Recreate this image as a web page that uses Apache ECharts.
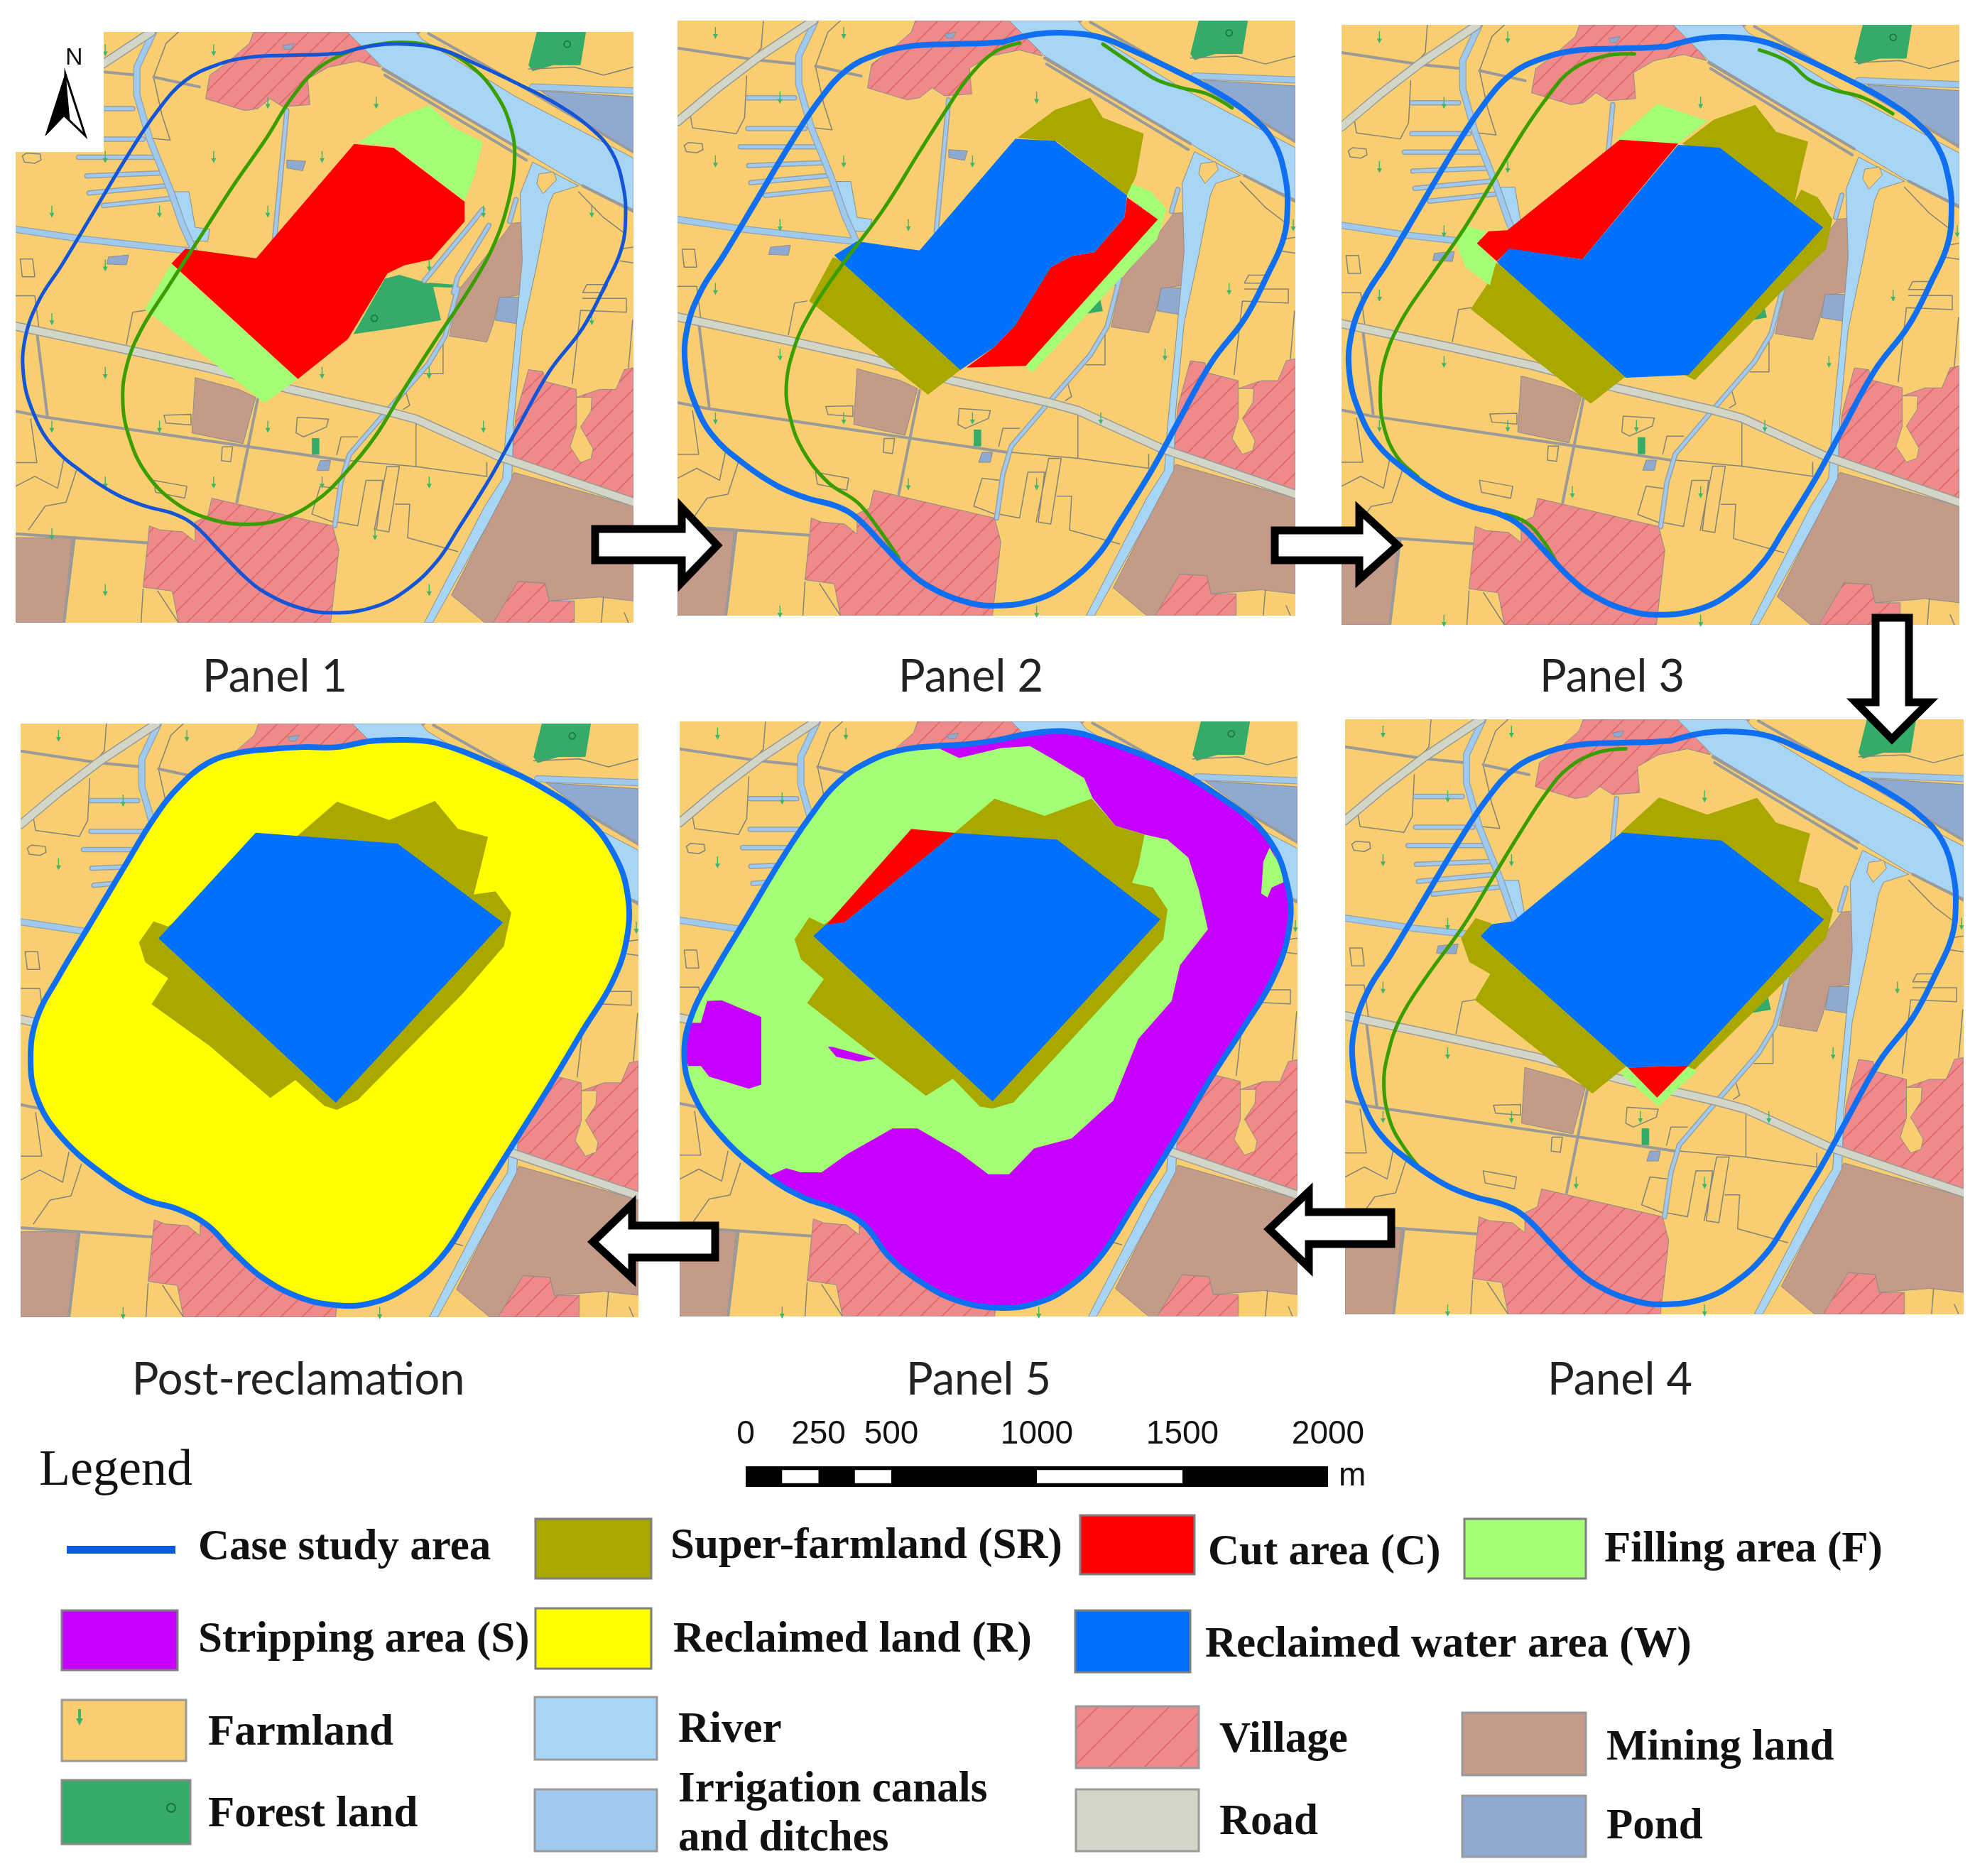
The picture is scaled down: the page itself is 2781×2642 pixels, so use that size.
<!DOCTYPE html>
<html>
<head>
<meta charset="utf-8">
<title>Reclamation panels</title>
<script src="https://cdn.jsdelivr.net/npm/echarts@6/dist/echarts.min.js"></script>
<style>
  html, body { margin: 0; padding: 0; background: #fff; }
  #chart { width: 2781px; height: 2642px; }
</style>
</head>
<body>
<div id="chart"></div>
<script>
// All map data is in "sheet units".
// base* arrays share one frame, each panel's overlay arrays use that panel's own frame.
var baseFrame = [39, 41, 1522, 1535];
var panelFrames = [
  [38, 44, 1520, 1527],
  [39, 41, 1522, 1535],
  [47, 27, 1530, 1532],
  [57, 41, 1540, 1534],
  [29, 28, 1512, 1522],
  [41, 41, 1523, 1530]
];
var panelNames = ['Panel 1', 'Panel 2', 'Panel 3', 'Panel 4', 'Panel 5', 'Post-reclamation'];

var baseVillages = [
  [[610,41],[850,41],[915,130],[860,115],[790,130],[740,160],[745,225],[680,230],[650,210],[620,235],[590,240],[495,210],[505,150],[545,120],[600,70]],
  [[920,41],[1010,41],[990,65],[945,65]],
  [[510,1220],[800,1290],[815,1350],[795,1535],[430,1535],[415,1455],[345,1445],[360,1290],[385,1300],[440,1305],[470,1330],[470,1280],[500,1265]],
  [[1270,895],[1305,900],[1310,925],[1385,945],[1385,965],[1440,945],[1480,945],[1500,895],[1522,890],[1522,1225],[1230,1120],[1240,1010]],
  [[1245,1430],[1310,1435],[1320,1480],[1380,1480],[1380,1535],[1185,1535]]
];
var baseVillageHoles = [
  [[1385,965],[1422,965],[1420,1000],[1395,1040],[1425,1095],[1420,1120],[1395,1130],[1370,1090],[1385,1040]]
];
var baseMining = [
  [[470,915],[575,945],[615,965],[585,1082],[462,1055]],
  [[1230,525],[1282,520],[1255,705],[1200,715],[1185,780],[1170,825],[1080,810],[1105,690],[1205,560]],
  [[1235,1155],[1522,1240],[1522,1480],[1440,1470],[1320,1480],[1310,1435],[1245,1430],[1185,1535],[1165,1535],[1085,1465]],
  [[39,1320],[175,1320],[155,1535],[39,1535]]
];
var basePonds = [
  [[1300,190],[1522,205],[1522,345],[1440,295],[1390,260]],
  [[262,610],[310,605],[305,630],[258,628]],
  [[690,365],[735,368],[728,392],[690,385]],
  [[1200,712],[1255,712],[1250,780],[1190,770]],
  [[770,1125],[795,1125],[790,1150],[762,1150]],
  [[680,75],[708,70],[700,85],[685,85]]
];
var baseForest = [
  [[1290,41],[1408,41],[1395,125],[1330,125],[1280,140],[1270,125]],
  [[925,665],[960,655],[1040,680],[1060,770],[950,790],[850,805]],
  [[750,1068],[768,1068],[768,1110],[750,1110]],
  [[1030,675],[1090,680],[1090,688],[1030,685]]
];
var baseRiver = [
  [[835,41],[1000,41],[1015,60],[1240,205],[1522,360],[1522,490],[1390,425],[1270,350],[920,130]],
  [[1280,370],[1390,430],[1330,450],[1318,480],[1290,630],[1255,800],[1235,1020],[1230,1170],[1170,1290],[1040,1535],[1020,1535],[1165,1240],[1208,1170],[1215,1060],[1235,850],[1255,620],[1250,450]],
  [[420,445],[455,445],[470,535],[505,540],[500,570],[460,570]]
];
var baseIslets = [
  [[1295,400],[1330,395],[1337,415],[1305,450],[1290,425]]
];
var baseRoads = [
  [[39,295],[130,215],[230,135],[365,41]],
  [[39,785],[330,850],[500,890],[700,945],[930,1000],[1000,1020],[1200,1115],[1522,1230]]
];
var baseCanals = [
  [[370,41],[330,130],[330,200],[360,310],[410,440],[440,530],[470,600]],
  [[39,540],[200,565],[460,595]],
  [[1280,180],[1522,190]]
];
var baseDitches = [
  [[208,235],[320,235]],
  [[208,312],[345,312]],
  [[190,358],[370,358]],
  [[210,405],[385,398]],
  [[215,448],[400,430]],
  [[250,480],[410,462]],
  [[690,240],[660,570]],
  [[1100,690],[1070,810],[1030,880],[930,1000]],
  [[930,1000],[840,1110],[820,1180],[805,1290]],
  [[1160,490],[1130,530],[1020,670]],
  [[1175,530],[1100,660],[1090,700]],
  [[1240,465],[1225,520]]
];
var baseLanes = [
  [[39,1000],[110,1015],[340,1050],[600,1090],[830,1125]],
  [[90,800],[115,1010]],
  [[620,970],[570,1230]],
  [[39,1310],[180,1320],[355,1333]],
  [[180,1320],[155,1535]],
  [[39,110],[230,140],[330,150]],
  [[370,155],[480,180]],
  [[920,135],[1270,350]],
  [[925,150],[1265,365]],
  [[1030,45],[1240,170],[1522,345]],
  [[1400,430],[1522,495]]
];
var baseOutlines = [
  [[245,41],[240,110],[215,140]],
  [[205,180],[200,285],[180,325],[75,310],[70,280]],
  [[430,41],[400,70],[370,155],[390,250],[410,315],[365,310]],
  [[55,355],[65,347],[98,350],[100,365],[85,373],[60,370],[55,355]],
  [[50,615],[80,615],[85,660],[55,660],[50,615]],
  [[39,708],[85,708],[95,790]],
  [[350,745],[320,750],[305,830]],
  [[395,1010],[460,1008],[460,1035],[400,1030],[395,1010]],
  [[715,1015],[790,1020],[785,1040],[730,1065],[712,1055],[715,1015]],
  [[535,1090],[560,1090],[555,1128],[533,1125],[535,1090]],
  [[370,1175],[450,1190],[445,1220],[375,1205],[370,1175]],
  [[810,1110],[820,1065],[860,1065]],
  [[840,1125],[1000,1140],[1170,1165]],
  [[1000,1020],[1000,1140]],
  [[800,1280],[750,1260],[770,1190],[810,1195]],
  [[810,1280],[860,1290],[880,1175],[920,1175],[905,1300],[935,1305],[960,1140],[930,1140],[900,1300]],
  [[950,1235],[985,1235],[980,1320],[1100,1355]],
  [[1410,680],[1460,680],[1450,700],[1400,700],[1410,680]],
  [[1400,715],[1505,715],[1505,750],[1395,745],[1375,930]],
  [[1520,770],[1510,890]],
  [[1390,445],[1450,510],[1500,550]],
  [[1490,620],[1522,625]],
  [[1490,590],[1522,585]],
  [[39,1130],[90,1130],[75,1020]],
  [[39,1190],[85,1165],[140,1195],[155,1120]],
  [[185,1150],[160,1230],[110,1240],[70,1300]],
  [[1065,810],[1065,905],[1020,905]],
  [[975,950],[985,985],[970,995]],
  [[1170,1130],[1170,1165]],
  [[345,1450],[340,1535]],
  [[380,1455],[430,1535]],
  [[1450,1470],[1445,1535]],
  [[1500,1510],[1510,1535]],
  [[1270,135],[1380,130],[1450,150],[1522,130]]
];
var baseFarmMarks = [
  [130,72],[438,72],[130,395],[438,395],[747,395],[901,235],[285,235],[285,555],[593,555],[130,715],
  [285,880],[1209,880],[1363,715],[1517,555],[130,1040],[438,1040],[747,1040],[593,1205],[901,1205],
  [285,1525],[901,1525],[1055,1040]
];
var baseForestMarks = [[1363,72],[900,765]];
var panel1FarmMarks = [
  [253,90],[513,90],[903,222],[643,222],[513,358],[253,358],[773,358],[125,495],[383,495],[643,495],
  [1160,495],[1420,495],[253,630],[1030,630],[125,765],[1420,765],[253,900],[773,900],[1030,900],
  [125,1035],[383,1035],[643,1035],[1160,1035],[253,1175],[513,1175],[773,1175],[1030,1175],[125,1305],
  [900,1305],[253,1445],[1030,1445]
];

var studyArea = [
  [820,95],[900,75],[980,72],[1060,85],[1140,120],[1240,170],[1340,225],[1420,285],[1470,345],[1497,430],
  [1503,510],[1493,590],[1455,680],[1400,790],[1320,900],[1240,1050],[1180,1165],[1100,1300],[1050,1380],
  [980,1450],[900,1495],[800,1510],[720,1497],[640,1460],[590,1420],[530,1355],[470,1290],[420,1260],
  [350,1240],[280,1210],[200,1155],[125,1085],[80,1000],[58,910],[62,815],[95,720],[150,630],[230,490],
  [310,350],[380,240],[445,165],[520,125],[600,105],[700,100],[770,98]
];

// panel 1
var p1Green = [[[860,85],[960,70],[1050,85],[1130,130],[1190,200],[1225,280],[1235,360],[1220,470],[1180,590],[1120,700],[1050,810],[970,940],[900,1060],[830,1150],[760,1220],[680,1265],[590,1280],[500,1265],[420,1225],[350,1150],[310,1060],[295,970],[305,880],[340,790],[400,690],[480,560],[560,430],[640,310],[700,210],[770,130],[860,85]]];
var p1Fill = [
  [[860,322],[945,332],[1115,468],[1140,400],[1158,320],[1090,285],[1030,228],[950,260]],
  [[412,625],[440,655],[715,915],[635,975],[348,740]]
];
var p1Cut = [[[850,325],[945,335],[1115,470],[1115,520],[1035,615],[970,630],[930,650],[835,815],[715,915],[412,625],[445,588],[615,612]]];

// panel 2
var p2Green = [
  [[860,97],[800,120],[740,180],[690,255],[620,370],[530,520],[430,660],[360,770],[320,860],[300,960],[310,1040],[340,1120],[400,1200],[470,1250],[510,1300],[570,1390]],
  [[1060,100],[1130,150],[1190,190],[1250,210],[1310,225],[1370,260]]
];
var p2Super = [
  [[855,335],[945,265],[1030,235],[1060,285],[1158,325],[1140,430],[1118,480],[950,345]],
  [[412,635],[480,660],[740,900],[718,918],[640,980],[355,745]]
];
var p2Fill = [[[1118,480],[1130,450],[1175,470],[1213,515],[1190,590],[890,925],[873,908],[1192,540]]];
var p2Cut = [[[1118,485],[1192,540],[875,908],[733,912],[800,860],[850,805],[935,660],[985,632],[1040,622],[1112,535]]];
var p2Water = [[[850,338],[945,343],[1118,480],[1112,535],[1040,622],[985,632],[935,660],[850,805],[800,860],[718,918],[415,630],[470,595],[620,618]]];

// panel 3
var p3Green = [
  [[750,100],[680,105],[600,140],[540,210],[480,300],[410,420],[340,540],[260,660],[190,770],[150,870],[140,960],[150,1040],[180,1110],[230,1160]],
  [[440,1255],[490,1275],[530,1320],[560,1370]],
  [[1050,90],[1120,120],[1170,165],[1230,190],[1300,210],[1370,250]]
];
var p3Super = [
  [[865,325],[940,265],[1040,228],[1090,295],[1167,320],[1150,395],[1135,470],[1150,440],[1190,460],[1225,515],[1210,590],[1100,700],[895,918],[860,900],[1150,540],[955,380]],
  [[418,625],[490,640],[760,890],[725,912],[645,977],[357,740],[395,680]]
];
var p3Fill = [
  [[708,315],[805,225],[925,268],[855,325]],
  [[322,575],[345,532],[395,545],[372,575],[418,622],[403,680],[345,635]]
];
var p3Cut = [[[715,315],[855,325],[625,615],[450,590],[420,620],[372,575],[400,545],[445,542]]];
var p3Water = [[[855,328],[955,335],[1203,535],[880,905],[730,912],[420,622],[450,588],[625,615]]];

// panel 4
var p4Green = [[[730,115],[660,125],[590,165],[540,225],[480,320],[410,440],[340,560],[250,690],[190,790],[160,880],[150,960],[165,1050],[195,1110],[240,1172]]];
var p4Super = [
  [[718,325],[810,237],[925,280],[1045,238],[1090,300],[1172,328],[1155,400],[1145,448],[1190,465],[1227,520],[1210,590],[1100,710],[895,920],[860,905],[1150,545],[960,390],[800,400]],
  [[335,590],[370,540],[405,552],[450,585],[760,890],[727,915],[650,980],[368,745],[405,680],[355,650]]
];
var p4Fill = [[[715,928],[735,915],[805,990],[880,912],[900,925],[808,1012]]];
var p4Water = [[[720,325],[960,345],[1205,543],[880,910],[735,915],[382,585],[410,555],[460,548]]];
var p4Cut = [[[735,915],[880,910],[805,990]]];

// panel 5
var p5Boundary = [
  [1000,60],[1180,130],[1330,220],[1440,320],[1490,450],[1490,560],[1450,680],[1380,800],[1300,930],[1210,1090],
  [1120,1240],[1040,1370],[960,1450],[880,1490],[790,1500],[690,1480],[600,1430],[530,1370],[470,1290],[400,1250],
  [330,1225],[240,1170],[130,1070],[60,960],[40,860],[60,760],[110,660],[190,520],[270,380],[340,270],[410,180],
  [490,125],[560,100],[640,90],[720,85],[790,75],[860,60],[940,52]
];
var p5Strip = [
  [[650,95],[700,120],[800,95],[870,90],[920,120],[1000,170],[1020,220],[1075,290],[1145,312],[1200,325],[1250,370],[1275,450],[1297,550],[1230,640],[1210,730],[1130,825],[1070,980],[970,1075],[880,1100],[820,1165],[770,1165],[700,1110],[600,1050],[540,1050],[430,1115],[370,1160],[320,1160],[285,1150],[240,1170],[330,1225],[400,1250],[470,1290],[530,1370],[600,1430],[690,1480],[790,1500],[880,1490],[960,1450],[1040,1370],[1120,1240],[1210,1090],[1300,930],[1380,800],[1450,680],[1490,560],[1490,450],[1440,320],[1330,220],[1180,130],[1000,60],[940,52],[860,60],[790,75],[720,85]],
  [[95,730],[130,728],[225,770],[225,940],[195,950],[100,920],[80,893],[50,893],[40,860],[55,785],[80,785]],
  [[385,845],[395,845],[500,875],[460,882],[405,870]]
];
var p5Fill = [[[1445,345],[1475,400],[1478,432],[1450,445],[1440,470],[1425,460],[1430,380]]];
var p5Super = [[[692,305],[785,222],[905,265],[1018,222],[1075,290],[1145,312],[1130,390],[1115,433],[1165,445],[1200,500],[1190,575],[1090,690],[830,985],[780,1000],[750,995],[685,925],[620,968],[335,735],[375,675],[320,625],[305,575],[340,520],[375,538]]];
var p5Cut = [[[585,298],[690,308],[425,532],[380,540]]];
var p5Water = [[[690,308],[935,325],[1183,525],[780,982],[350,567],[380,538],[425,532]]];

// post-reclamation
var p6Boundary = [
  [960,82],[1040,90],[1180,145],[1290,200],[1400,280],[1465,370],[1497,470],[1495,580],[1460,690],[1390,810],
  [1310,950],[1220,1100],[1130,1250],[1050,1380],[960,1460],[880,1495],[800,1500],[710,1480],[620,1430],[550,1365],
  [490,1300],[420,1260],[340,1235],[250,1180],[140,1080],[80,980],[65,880],[80,780],[130,680],[210,540],[290,400],
  [360,280],[420,200],[490,140],[560,115],[640,105],[720,100],[800,100],[880,85]
];
var p6Super = [[[708,320],[800,237],[925,283],[1035,235],[1090,305],[1162,325],[1145,400],[1128,470],[1180,462],[1218,515],[1200,600],[1100,720],[850,985],[800,1010],[770,1000],[700,935],[640,980],[495,850],[355,745],[395,680],[340,640],[325,590],[360,537],[395,550]]];
var p6Water = [[[605,315],[945,342],[1198,540],[797,992],[372,580]]];

// scale bar, metres
var scaleTicks = [0, 250, 500, 1000, 1500, 2000];
var scaleBlack = [[0, 2000]];
var scaleWhite = [[125, 250], [375, 500], [1000, 1500]];

var legendLabels = [
  'Case study area', 'Super-farmland (SR)', 'Cut area (C)', 'Filling area (F)',
  'Stripping area (S)', 'Reclaimed land (R)', 'Reclaimed water area (W)',
  'Farmland', 'River', 'Village', 'Mining land',
  'Forest land', 'Irrigation canals', 'and ditches', 'Road', 'Pond'
];

var COLORS = {
  farm: '#F9CE70', river: '#A6D5F5', canal: '#9FCAEE', forest: '#34AB68', village: '#EE8A8A',
  mining: '#C49A89', road: '#D1D6C7', pond: '#8FA9D0', red: '#FF0000', fill: '#A3FF73',
  olive: '#A8A800', water: '#0070FF', purple: '#C500FF', yellow: '#FFFF00', grey: '#8D8D8D',
  green: '#3A9E00', farmMark: '#3FB56B'
};

function hatchPattern(size, lineColor) {
  var c = document.createElement('canvas');
  c.width = size;
  c.height = size;
  var ctx = c.getContext('2d');
  ctx.fillStyle = COLORS.village;
  ctx.fillRect(0, 0, size, size);
  ctx.strokeStyle = lineColor;
  ctx.lineWidth = 1.6;
  ctx.beginPath();
  ctx.moveTo(-2, size + 2);
  ctx.lineTo(size + 2, -2);
  ctx.stroke();
  return { image: c, repeat: 'repeat' };
}
var villagePattern = hatchPattern(30, '#E0676A');

var chart = echarts.init(document.getElementById('chart'));

var panelBoxes = [
  { left: 22, top: 45, width: 870, height: 832 },
  { left: 954, top: 29, width: 870, height: 838 },
  { left: 1889, top: 35, width: 870, height: 845 },
  { left: 1894, top: 1013, width: 871, height: 838 },
  { left: 957, top: 1016, width: 870, height: 838 },
  { left: 29, top: 1019, width: 870, height: 836 }
];

var grids = [], xAxes = [], yAxes = [], series = [];

function hiddenAxes(gridIndex, frame) {
  xAxes.push({ type: 'value', gridIndex: gridIndex, min: frame[0], max: frame[2], show: false });
  yAxes.push({ type: 'value', gridIndex: gridIndex, min: frame[1], max: frame[3], inverse: true, show: false });
}

function polyLayer(axis, polys, style, z, smooth) {
  series.push({
    type: 'custom', coordinateSystem: 'cartesian2d', xAxisIndex: axis, yAxisIndex: axis,
    clip: true, silent: true, z: z,
    data: polys.map(function (p, i) { return [i, 0]; }),
    renderItem: function (params, api) {
      var pts = polys[api.value(0)].map(function (p) { return api.coord(p); });
      return { type: 'polygon', shape: { points: pts, smooth: smooth || 0 }, style: style };
    }
  });
}

function lineLayer(axis, lines, color, width, z, smooth) {
  series.push({
    type: 'custom', coordinateSystem: 'cartesian2d', xAxisIndex: axis, yAxisIndex: axis,
    clip: true, silent: true, z: z,
    data: lines.map(function (p, i) { return [i, 0]; }),
    renderItem: function (params, api) {
      var pts = lines[api.value(0)].map(function (p) { return api.coord(p); });
      return {
        type: 'polyline', shape: { points: pts, smooth: smooth || 0 },
        style: { stroke: color, lineWidth: width, fill: null, lineJoin: 'round', lineCap: 'round' }
      };
    }
  });
}

function ring(points) { return [points.concat([points[0]])]; }

function farmMarks(axis, pts) {
  series.push({
    type: 'scatter', xAxisIndex: axis, yAxisIndex: axis, silent: true, z: 9, data: pts,
    symbol: 'path://M4 0L6 0L6 12L10 12L5 20L0 12L4 12Z', symbolSize: [7, 17],
    itemStyle: { color: COLORS.farmMark, opacity: 1 }
  });
}

function drawBase(axis) {
  var frameBox = [[baseFrame[0], baseFrame[1]], [baseFrame[2], baseFrame[1]], [baseFrame[2], baseFrame[3]], [baseFrame[0], baseFrame[3]]];
  polyLayer(axis, [frameBox], { fill: COLORS.farm }, 2);
  polyLayer(axis, baseVillages, { fill: villagePattern, stroke: COLORS.grey, lineWidth: 1 }, 3);
  polyLayer(axis, baseVillageHoles, { fill: COLORS.farm, stroke: COLORS.grey, lineWidth: 1 }, 3);
  polyLayer(axis, baseMining, { fill: COLORS.mining, stroke: COLORS.grey, lineWidth: 1 }, 3);
  polyLayer(axis, basePonds, { fill: COLORS.pond, stroke: COLORS.grey, lineWidth: 1 }, 3);
  polyLayer(axis, baseForest, { fill: COLORS.forest }, 3);
  lineLayer(axis, baseOutlines, '#85827A', 1.5, 4);
  polyLayer(axis, baseRiver, { fill: COLORS.river, stroke: COLORS.grey, lineWidth: 1 }, 5);
  polyLayer(axis, baseIslets, { fill: COLORS.farm, stroke: COLORS.grey, lineWidth: 1 }, 5);
  lineLayer(axis, baseLanes, '#9A9A9A', 4, 5);
  lineLayer(axis, baseDitches, '#9A9FA5', 7.5, 5);
  lineLayer(axis, baseDitches, COLORS.canal, 4.5, 5);
  lineLayer(axis, baseCanals, '#8FA2B5', 10, 6);
  lineLayer(axis, baseCanals, COLORS.canal, 7.5, 6);
  lineLayer(axis, baseRoads, '#9A9A9A', 13, 7);
  lineLayer(axis, baseRoads, COLORS.road, 10, 7);
  series.push({
    type: 'scatter', xAxisIndex: axis, yAxisIndex: axis, silent: true, z: 9, data: baseForestMarks,
    symbol: 'circle', symbolSize: 9,
    itemStyle: { color: 'transparent', borderColor: '#1F6E45', borderWidth: 1.5, opacity: 1 }
  });
}

var OVER = 20;
panelBoxes.forEach(function (box, i) {
  grids.push(box);
  grids.push(box);
  hiddenAxes(2 * i, baseFrame);
  hiddenAxes(2 * i + 1, panelFrames[i]);
  drawBase(2 * i);
  farmMarks(i === 0 ? 1 : 2 * i, i === 0 ? panel1FarmMarks : baseFarmMarks);
});

function solid(color) { return { fill: color }; }
var AREA_LINE = '#0F6FF0';
var AREA_WIDTH = 8;
var GREEN_WIDTH = 5;

// panel 1
polyLayer(1, p1Fill, solid(COLORS.fill), OVER);
polyLayer(1, p1Cut, solid(COLORS.red), OVER + 1);
lineLayer(1, p1Green, COLORS.green, GREEN_WIDTH, OVER + 2, 0.4);
lineLayer(0, ring(studyArea), '#1455D8', 5, OVER + 3, 0.4);

// panel 2
polyLayer(3, p2Super, solid(COLORS.olive), OVER);
polyLayer(3, p2Fill, solid(COLORS.fill), OVER);
polyLayer(3, p2Cut, solid(COLORS.red), OVER + 1);
polyLayer(3, p2Water, solid(COLORS.water), OVER + 1);
lineLayer(3, p2Green, COLORS.green, GREEN_WIDTH, OVER + 2, 0.4);
lineLayer(2, ring(studyArea), AREA_LINE, AREA_WIDTH, OVER + 3, 0.4);

// panel 3
polyLayer(5, p3Super, solid(COLORS.olive), OVER);
polyLayer(5, p3Fill, solid(COLORS.fill), OVER);
polyLayer(5, p3Cut, solid(COLORS.red), OVER + 1);
polyLayer(5, p3Water, solid(COLORS.water), OVER + 1);
lineLayer(5, p3Green, COLORS.green, GREEN_WIDTH, OVER + 2, 0.4);
lineLayer(4, ring(studyArea), AREA_LINE, AREA_WIDTH, OVER + 3, 0.4);

// panel 4
polyLayer(7, p4Super, solid(COLORS.olive), OVER);
polyLayer(7, p4Fill, solid(COLORS.fill), OVER);
polyLayer(7, p4Water, solid(COLORS.water), OVER + 1);
polyLayer(7, p4Cut, solid(COLORS.red), OVER + 1);
lineLayer(7, p4Green, COLORS.green, GREEN_WIDTH, OVER + 2, 0.4);
lineLayer(6, ring(studyArea), AREA_LINE, AREA_WIDTH, OVER + 3, 0.4);

// panel 5
polyLayer(9, [p5Boundary], solid(COLORS.fill), OVER, 0.4);
polyLayer(9, p5Strip, solid(COLORS.purple), OVER);
polyLayer(9, p5Fill, solid(COLORS.fill), OVER);
polyLayer(9, p5Super, solid(COLORS.olive), OVER + 1);
polyLayer(9, p5Cut, solid(COLORS.red), OVER + 1);
polyLayer(9, p5Water, solid(COLORS.water), OVER + 1);
lineLayer(9, ring(p5Boundary), AREA_LINE, AREA_WIDTH, OVER + 3, 0.4);

// post-reclamation
polyLayer(11, [p6Boundary], solid(COLORS.yellow), OVER, 0.4);
polyLayer(11, p6Super, solid(COLORS.olive), OVER + 1);
polyLayer(11, p6Water, solid(COLORS.water), OVER + 1);
lineLayer(11, ring(p6Boundary), AREA_LINE, AREA_WIDTH, OVER + 3, 0.4);

// scale bar gets its own small axis
grids.push({ left: 1050, top: 2065, width: 820, height: 29 });
xAxes.push({
  type: 'value', gridIndex: 12, min: 0, max: 2000, interval: 250, position: 'top',
  axisLine: { show: false }, axisTick: { show: false }, splitLine: { show: false },
  axisLabel: {
    margin: 22, fontFamily: 'Liberation Sans', fontSize: 46, color: '#111',
    hideOverlap: false,
    formatter: function (v) { return scaleTicks.indexOf(v) >= 0 ? String(v) : ''; }
  }
});
yAxes.push({ type: 'value', gridIndex: 12, min: 0, max: 1, show: false });

function scaleLayer(segs, y0, y1, color, z) {
  series.push({
    type: 'custom', coordinateSystem: 'cartesian2d', xAxisIndex: 12, yAxisIndex: 12, silent: true, z: z,
    data: segs,
    renderItem: function (params, api) {
      var a = api.coord([api.value(0), y0]);
      var b = api.coord([api.value(1), y1]);
      return { type: 'rect', shape: { x: a[0], y: b[1], width: b[0] - a[0], height: a[1] - b[1] }, style: { fill: color } };
    }
  });
}
scaleLayer(scaleBlack, 0, 1, '#000', 5);
scaleLayer(scaleWhite, 0.18, 0.82, '#fff', 6);

// everything below is sheet furniture, placed in page pixels
var graphic = [];

function addText(text, x, y, font) {
  graphic.push({
    type: 'text', x: x, y: y, z: 100, silent: true,
    style: {
      text: text, fill: font.color || '#111', textAlign: font.align || 'left', verticalAlign: 'middle',
      fontFamily: font.family, fontSize: font.size, fontWeight: font.weight || 'normal'
    }
  });
}

function addPoly(points, fill, stroke, width) {
  graphic.push({
    type: 'polygon', z: 100, silent: true, shape: { points: points },
    style: { fill: fill, stroke: stroke, lineWidth: width || 0, lineJoin: 'miter', miterLimit: 10 }
  });
}

function addRect(x, y, w, h, fill, stroke) {
  graphic.push({
    type: 'rect', z: 90, silent: true, shape: { x: x, y: y, width: w, height: h },
    style: { fill: fill, stroke: stroke || null, lineWidth: stroke ? 3 : 0 }
  });
}

// north arrow box over panel 1
addRect(20, 42, 126, 172, '#fff');
addText('N', 92, 82, { family: 'Liberation Sans', size: 34 });
addPoly([[92, 104], [64, 191], [91, 163]], '#000', '#000', 1);
addPoly([[92, 104], [120, 191], [91, 163]], '#fff', '#000', 3);
addPoly([[92, 104], [98, 170], [91, 163]], '#000', '#000', 1);

// block arrows between panels
var ARROW_W = 11;
addPoly([[838, 745], [960, 745], [960, 715], [1010, 768], [960, 820], [960, 789], [838, 789]], '#fff', '#000', ARROW_W);
addPoly([[1795, 747], [1914, 747], [1914, 718], [1968, 768], [1914, 816], [1914, 789], [1795, 789]], '#fff', '#000', ARROW_W);
addPoly([[2641, 870], [2688, 870], [2688, 989], [2716, 989], [2664, 1041], [2613, 989], [2641, 989]], '#fff', '#000', ARROW_W);
addPoly([[1959, 1707], [1843, 1707], [1843, 1678], [1787, 1731], [1843, 1785], [1843, 1752], [1959, 1752]], '#fff', '#000', ARROW_W);
addPoly([[1007, 1726], [890, 1726], [890, 1696], [835, 1749], [890, 1800], [890, 1771], [1007, 1771]], '#fff', '#000', ARROW_W);

// panel captions
var captionFont = { family: 'Lato', size: 63, align: 'center', color: '#222' };
addText(panelNames[0], 387, 954, captionFont);
addText(panelNames[1], 1367, 954, captionFont);
addText(panelNames[2], 2270, 954, captionFont);
addText(panelNames[3], 2281, 1944, captionFont);
addText(panelNames[4], 1378, 1944, captionFont);
addText(panelNames[5], 420, 1944, captionFont);

// legend
addText('Legend', 55, 2072, { family: 'Liberation Serif', size: 72, color: '#111' });
addText('m', 1885, 2079, { family: 'Liberation Sans', size: 46 });

graphic.push({
  type: 'rect', z: 90, silent: true, shape: { x: 94, y: 2177, width: 153, height: 11 },
  style: { fill: '#0A5BE0' }
});
addRect(754, 2139, 163, 84, COLORS.olive, '#7F7F7F');
addRect(1521, 2134, 161, 83, COLORS.red, '#7F7F7F');
addRect(2062, 2139, 171, 84, COLORS.fill, '#7F7F7F');
addRect(87, 2268, 163, 84, COLORS.purple, '#7F7F7F');
addRect(754, 2265, 163, 85, COLORS.yellow, '#7F7F7F');
addRect(1514, 2268, 162, 87, COLORS.water, '#7F7F7F');
addRect(87, 2394, 175, 86, COLORS.farm, '#9A9A9A');
addRect(753, 2390, 172, 88, COLORS.river, '#9A9A9A');
addRect(1515, 2403, 173, 87, hatchPattern(50, '#E0676A'), '#9A9A9A');
addRect(2059, 2412, 174, 88, COLORS.mining, '#9A9A9A');
addRect(87, 2507, 181, 90, COLORS.forest, '#8A8A8A');
addRect(753, 2520, 172, 87, COLORS.canal, '#9A9A9A');
addRect(1515, 2520, 173, 87, COLORS.road, '#9A9A9A');
addRect(2059, 2529, 174, 86, COLORS.pond, '#9A9A9A');

// little marks inside the farmland and forest swatches
addPoly([[110, 2407], [114, 2407], [114, 2420], [117, 2420], [112, 2430], [107, 2420], [110, 2420]], COLORS.farmMark);
graphic.push({
  type: 'circle', z: 100, silent: true, shape: { cx: 241, cy: 2546, r: 6 },
  style: { fill: null, stroke: '#1F6E45', lineWidth: 2 }
});

var labelFont = { family: 'Liberation Serif', size: 61, weight: 'bold', color: '#111' };
var labelSpots = [
  [279, 2180], [944, 2178], [1701, 2187], [2259, 2183],
  [279, 2310], [948, 2310], [1697, 2317],
  [293, 2441], [955, 2437], [1717, 2451], [2262, 2462],
  [293, 2556], [955, 2521], [955, 2590], [1717, 2567], [2262, 2573]
];
legendLabels.forEach(function (label, i) {
  addText(label, labelSpots[i][0], labelSpots[i][1], labelFont);
});

chart.setOption({
  animation: false,
  backgroundColor: '#fff',
  grid: grids,
  xAxis: xAxes,
  yAxis: yAxes,
  series: series,
  graphic: { elements: graphic }
});
</script>
</body>
</html>
